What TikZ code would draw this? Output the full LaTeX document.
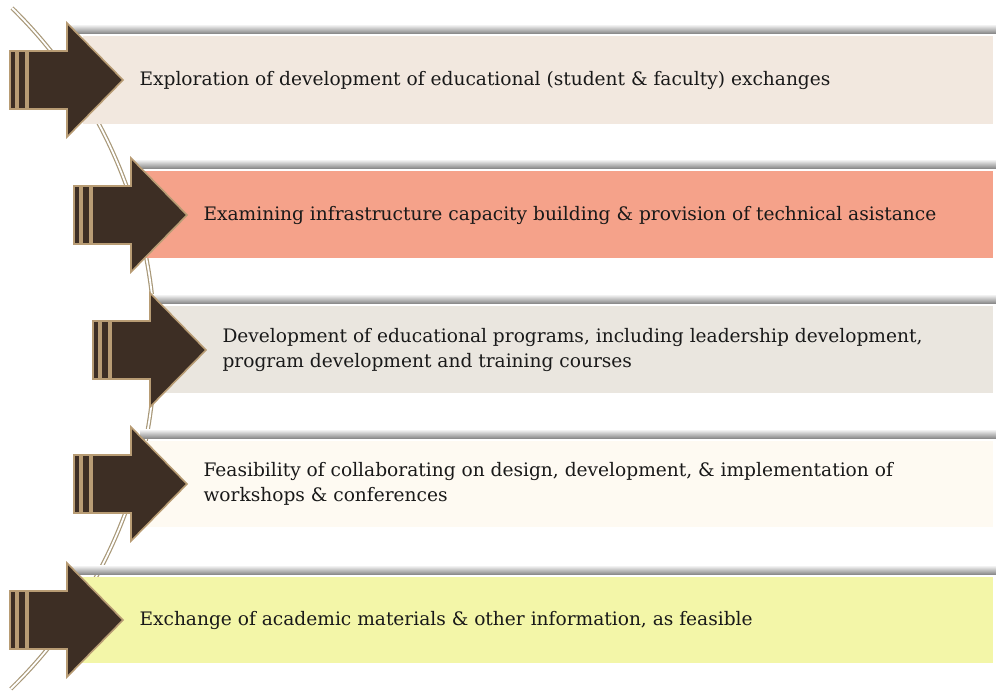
\documentclass[tikz,border=0pt]{standalone}
\usepackage{xcolor}
\usepackage{fontspec}
\setmainfont{DejaVu Serif}
\usepackage{tikz}
\usetikzlibrary{calc,shadings}

\definecolor{arrowbrown}{HTML}{3D2E24}
\definecolor{arrowtan}{HTML}{B89C74}
\definecolor{curvetan}{HTML}{A89878}
\definecolor{barone}{HTML}{F2E8DF}
\definecolor{bartwo}{HTML}{F5A28A}
\definecolor{barthree}{HTML}{EAE6DF}
\definecolor{barfour}{HTML}{FEFAF2}
\definecolor{barfive}{HTML}{F3F6A8}

\tikzset{
  arrowbody/.style={fill=arrowbrown, draw=arrowtan, line width=1.6pt, line join=miter},
  barshadow/.style={top color=white, bottom color=black!45},
  itemtext/.style={anchor=west, align=left, font=\fontsize{18.6}{25}\selectfont, text=black!90}
}

\begin{document}
\begin{tikzpicture}[x=1pt, y=-1pt]

\useasboundingbox (0,0) rectangle (996,691);

% Draw curve behind the arrows
\coordinate (curvetop) at (12,8);
\draw[draw=curvetan, double=white, double distance=1.8pt, line width=1.2pt]
  (curvetop) arc[start angle=-45.6, end angle=45.8, radius=475.7];

% Bars with shadows
\shade[barshadow] (70,24) rectangle (996,33);
\fill[barone] (83,36) rectangle (993,124);

\shade[barshadow] (132,159) rectangle (996,168);
\fill[bartwo] (145,171) rectangle (993,258);

\shade[barshadow] (153,294) rectangle (996,303);
\fill[barthree] (160,306) rectangle (993,393);

\shade[barshadow] (140,429) rectangle (996,438);
\fill[barfour] (143,441) rectangle (993,527);

\shade[barshadow] (67,565) rectangle (996,574);
\fill[barfive] (80,577) rectangle (993,663);

% Arrows: two stripes, then body
\draw[arrowbody] (10,51) rectangle (16,109);
\draw[arrowbody] (18,51) rectangle (26,109);
\draw[arrowbody] (28,51) -- ++(39,0) -- ++(0,-28) -- ++(56,57) -- ++(-56,57) -- ++(0,-28) -- ++(-39,0) -- cycle;

\draw[arrowbody] (74,186) rectangle (80,244);
\draw[arrowbody] (82,186) rectangle (90,244);
\draw[arrowbody] (92,186) -- ++(39,0) -- ++(0,-28) -- ++(56,57) -- ++(-56,57) -- ++(0,-28) -- ++(-39,0) -- cycle;

\draw[arrowbody] (93,321) rectangle (99,379);
\draw[arrowbody] (101,321) rectangle (109,379);
\draw[arrowbody] (111,321) -- ++(39,0) -- ++(0,-28) -- ++(56,57) -- ++(-56,57) -- ++(0,-28) -- ++(-39,0) -- cycle;

\draw[arrowbody] (74,455) rectangle (80,513);
\draw[arrowbody] (82,455) rectangle (90,513);
\draw[arrowbody] (92,455) -- ++(39,0) -- ++(0,-28) -- ++(56,57) -- ++(-56,57) -- ++(0,-28) -- ++(-39,0) -- cycle;

\draw[arrowbody] (10,591) rectangle (16,649);
\draw[arrowbody] (18,591) rectangle (26,649);
\draw[arrowbody] (28,591) -- ++(39,0) -- ++(0,-28) -- ++(56,57) -- ++(-56,57) -- ++(0,-28) -- ++(-39,0) -- cycle;

% Labels
\node[itemtext] (exchanges) at (136,80) {Exploration of development of educational (student \& faculty) exchanges};
\node[itemtext] (capacity) at (200,215) {Examining infrastructure capacity building \& provision of technical asistance};
\node[itemtext] (programs) at (219,350) {Development of educational programs, including leadership development,\\program development and training courses};
\node[itemtext] (workshops) at (200,484) {Feasibility of collaborating on design, development, \& implementation of\\workshops \& conferences};
\node[itemtext] (materials) at (136,620) {Exchange of academic materials \& other information, as feasible};

\end{tikzpicture}
\end{document}
